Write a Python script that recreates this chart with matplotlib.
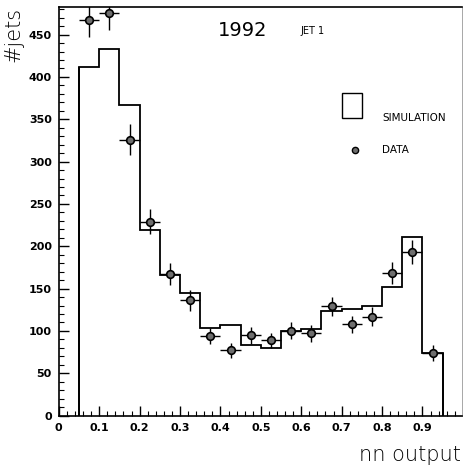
import numpy as np
import matplotlib.pyplot as plt
from matplotlib.ticker import MultipleLocator

# bin edges of the nn output histogram
edges = [0.05, 0.10, 0.15, 0.20, 0.25, 0.30, 0.35, 0.40, 0.45, 0.50,
         0.55, 0.60, 0.65, 0.70, 0.75, 0.80, 0.85, 0.90, 0.95]
# simulation counts per bin
sim = [412, 433, 367, 219, 166, 145, 104, 107, 83, 80,
       100, 102, 123, 126, 129, 152, 211, 74]
# data points (bin centres) with errors
data_x = [0.075, 0.125, 0.175, 0.225, 0.275, 0.325, 0.375, 0.425, 0.475,
          0.525, 0.575, 0.625, 0.675, 0.725, 0.775, 0.825, 0.875, 0.925]
data_y = [467, 476, 326, 229, 167, 136, 94, 77, 95,
          89, 100, 97, 129, 108, 117, 168, 193, 74]
data_yerr = [20, 21, 18, 15, 13, 12, 10, 9, 10,
             9, 10, 10, 11, 10, 11, 13, 14, 9]
data_xerr = 0.025

fig = plt.figure(figsize=(4.63, 4.68), dpi=100)
ax = fig.add_axes([0.127, 0.112, 0.871, 0.872])

#simulation histogram as a step outline
ax.stairs(sim, edges, color='black', linewidth=1.3, baseline=0)
ax.vlines([edges[0], edges[-1]], 0, [sim[0], sim[-1]], color='black', linewidth=1.3)

#data points
ax.errorbar(data_x, data_y, yerr=data_yerr, xerr=data_xerr, fmt='o',
            color='black', ecolor='black', elinewidth=1.0, capsize=0,
            markersize=5.5, markerfacecolor='#6e6e6e', markeredgecolor='black',
            markeredgewidth=1.2)

ax.set_xlim(0, 0.998)
ax.set_ylim(0, 482)
ax.xaxis.set_minor_locator(MultipleLocator(0.02))
ax.yaxis.set_major_locator(MultipleLocator(50))
ax.yaxis.set_minor_locator(MultipleLocator(10))
ax.set_xticks(np.arange(0, 1.0, 0.1))
ax.set_xticklabels(['0', '0.1', '0.2', '0.3', '0.4', '0.5', '0.6', '0.7', '0.8', '0.9'])
ax.tick_params(which='major', direction='in', length=7, width=1, labelsize=8, pad=5)
ax.tick_params(which='minor', direction='in', length=3.5, width=0.8)
for lab in ax.get_xticklabels() + ax.get_yticklabels():
    lab.set_fontweight('bold')
for s in ax.spines.values():
    s.set_linewidth(1.2)
ax.spines['right'].set_linewidth(0.6)
ax.spines['right'].set_color('#999999')

#labels
fig.text(0.030, 0.985, '#jets', rotation=90, ha='center', va='top', fontsize=15,
         fontweight='light')
fig.text(0.995, 0.006, 'nn output', ha='right', va='bottom', fontsize=15,
         fontweight='light')
fig.text(0.47, 0.935, '1992', fontsize=14, ha='left', va='center')
fig.text(0.648, 0.933, 'JET 1', fontsize=7, ha='left', va='center')

#legend drawn by hand
ax.add_patch(plt.Rectangle((0.70, 351), 0.05, 30, fill=False, edgecolor='black', linewidth=1.0))
ax.text(0.80, 352, 'SIMULATION', fontsize=7.5, ha='left', va='center')
ax.plot([0.733], [314], 'o', markersize=4.5, markerfacecolor='#6e6e6e', markeredgecolor='black')
ax.text(0.80, 314, 'DATA', fontsize=7.5, ha='left', va='center')

fig.savefig('out.png', dpi=100)
